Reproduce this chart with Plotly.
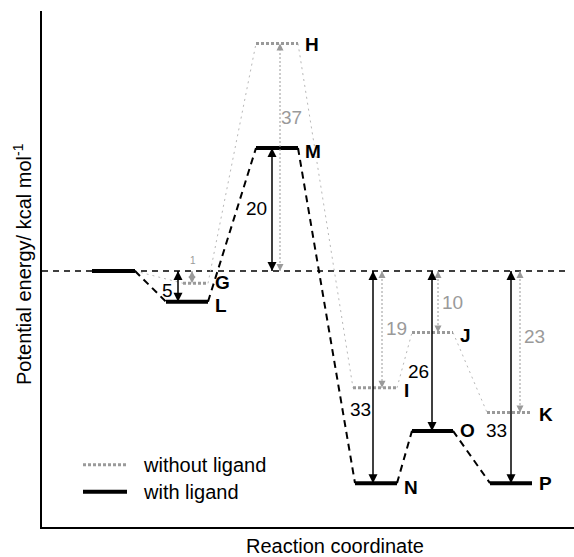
import plotly.graph_objects as go

# ---- data (energies in kcal/mol relative to reactants) ----
stage_start_with = [50, 124, 214, 313, 370, 448]
stage_start_without = [50, 141, 214, 311, 370, 445]
stage_end = [93, 166, 256, 355, 411, 490]
E_with = [0, -5, 20, -34.5, -26, -34.5]
E_without = [0, -2, 37, -19, -10, -23]
labels_with = ["", "L", "M", "N", "O", "P"]
labels_without = ["", "G", "H", "I", "J", "K"]

# energy-difference arrows: x-position, energy reached, label
arrow_x_with = [136, 230, 331, 390, 469]
arrow_E_with = [-5, 20, -34.5, -26, -34.5]
arrow_txt_with = ["5", "20", "33", "26", "33"]
arrow_lab_with = [(125, -3.1), (214, 10.1), (318, -22.6), (376, -16.3), (454, -26.0)]

arrow_x_without = [150, 238, 340, 396, 478]
arrow_E_without = [-2, 37, -19, -10, -23]
arrow_txt_without = ["1", "37", "19", "10", "23"]
arrow_lab_without = [(151, 1.7), (249, 25.0), (354, -9.3), (410, -5.2), (492, -10.7)]

BLACK = "#000000"
GREY = "#9a9a9a"
FONT = "Liberation Sans, Arial, sans-serif"

fig = go.Figure()


def level_xy(starts, ends, energies):
    xs, ys = [], []
    for s, e, E in zip(starts, ends, energies):
        xs += [s, e, None]
        ys += [E, E, None]
    return xs, ys


def conn_xy(starts, ends, energies):
    xs, ys = [], []
    for i in range(len(energies) - 1):
        xs += [ends[i], starts[i + 1], None]
        ys += [energies[i], energies[i + 1], None]
    return xs, ys


def add_arrow(x, E, color, width, dash, size):
    up, down = "arrow-up", "arrow-down"
    syms = [down, up] if E > 0 else [up, down]
    fig.add_trace(go.Scatter(x=[x, x], y=[0, E], mode="lines+markers",
                             line=dict(color=color, width=width, dash=dash),
                             marker=dict(symbol=syms, size=size, color=color,
                                         line=dict(width=0)),
                             showlegend=False, hoverinfo="skip"))


# reference dashed line at 0
fig.add_trace(go.Scatter(x=[0, 527], y=[0, 0], mode="lines",
                         line=dict(color=BLACK, width=1.5, dash="6px,5px"),
                         showlegend=False, hoverinfo="skip"))

# without ligand
cx, cy = conn_xy(stage_start_without, stage_end, E_without)
fig.add_trace(go.Scatter(x=cx, y=cy, mode="lines",
                         line=dict(color="#b8b8b8", width=1, dash="2px,4px"),
                         showlegend=False, hoverinfo="skip"))
lx, ly = level_xy(stage_start_without[1:], stage_end[1:], E_without[1:])
fig.add_trace(go.Scatter(x=lx, y=ly, mode="lines",
                         line=dict(color=GREY, width=3, dash="3px,2px"),
                         showlegend=False, hoverinfo="skip"))

# with ligand
cx, cy = conn_xy(stage_start_with, stage_end, E_with)
fig.add_trace(go.Scatter(x=cx, y=cy, mode="lines",
                         line=dict(color=BLACK, width=2, dash="7px,5px"),
                         showlegend=False, hoverinfo="skip"))
lx, ly = level_xy(stage_start_with, stage_end, E_with)
fig.add_trace(go.Scatter(x=lx, y=ly, mode="lines",
                         line=dict(color=BLACK, width=4),
                         showlegend=False, hoverinfo="skip"))

annotations = []

# grey dotted arrows (without ligand)
for x, E, t, (tx, ty) in zip(arrow_x_without, arrow_E_without, arrow_txt_without, arrow_lab_without):
    add_arrow(x, E, GREY, 1, "2px,2px", 7)
    annotations.append(dict(x=tx, y=ty, xref="x", yref="y", text=t, showarrow=False,
                            font=dict(family=FONT, size=19 if t != "1" else 10, color=GREY)))

# black double arrows (with ligand)
for x, E, t, (tx, ty) in zip(arrow_x_with, arrow_E_with, arrow_txt_with, arrow_lab_with):
    add_arrow(x, E, BLACK, 1.5, "solid", 9)
    annotations.append(dict(x=tx, y=ty, xref="x", yref="y", text=t, showarrow=False,
                            font=dict(family=FONT, size=19, color=BLACK)))

# level labels
yshift_with = [0, -4, -3, -4, 0, 0]
for e, E, lab, ys in zip(stage_end, E_with, labels_with, yshift_with):
    if lab:
        annotations.append(dict(x=e + 5, y=E, xref="x", yref="y", text="<b>%s</b>" % lab,
                                showarrow=False, xanchor="left", yshift=ys,
                                font=dict(family=FONT, size=19, color=BLACK)))
yshift_without = [0, 1, -1, -3, -3, -2]
for e, E, lab, ys in zip(stage_end, E_without, labels_without, yshift_without):
    if lab:
        annotations.append(dict(x=e + 5, y=E, xref="x", yref="y", text="<b>%s</b>" % lab,
                                showarrow=False, xanchor="left", yshift=ys,
                                font=dict(family=FONT, size=19, color=BLACK)))

# legend (manual)
legend_names = ["without ligand", "with ligand"]
legend_E = [-31.5, -35.9]
fig.add_trace(go.Scatter(x=[41, 85], y=[legend_E[0]] * 2, mode="lines",
                         line=dict(color=GREY, width=3, dash="3px,2px"),
                         showlegend=False, hoverinfo="skip"))
fig.add_trace(go.Scatter(x=[41, 85], y=[legend_E[1]] * 2, mode="lines",
                         line=dict(color=BLACK, width=4),
                         showlegend=False, hoverinfo="skip"))
for name, E in zip(legend_names, legend_E):
    annotations.append(dict(x=99, y=E, xref="x", yref="y", text=name, showarrow=False,
                            xanchor="left", font=dict(family=FONT, size=20, color=BLACK)))

# axis titles
annotations.append(dict(xref="paper", yref="paper", x=(335 - 42) / 532, y=-19 / 516,
                        text="Reaction coordinate", showarrow=False, yanchor="middle",
                        font=dict(family=FONT, size=20, color=BLACK)))
annotations.append(dict(xref="paper", yref="paper", x=-20 / 532, y=(527 - 264) / 516,
                        text="Potential energy/ kcal mol<sup>-1</sup>", showarrow=False,
                        textangle=-90, xanchor="center", yanchor="middle",
                        font=dict(family=FONT, size=20, color=BLACK)))

fig.update_layout(
    width=574, height=557,
    margin=dict(l=42, r=0, t=11, b=30),
    paper_bgcolor="white", plot_bgcolor="white",
    showlegend=False,
    annotations=annotations,
    xaxis=dict(range=[0, 532], showgrid=False, zeroline=False, showticklabels=False,
               ticks="", showline=True, linecolor=BLACK, linewidth=1.5, fixedrange=True),
    yaxis=dict(range=[-41.63, 42.28], showgrid=False, zeroline=False, showticklabels=False,
               ticks="", showline=True, linecolor=BLACK, linewidth=2, fixedrange=True),
)

fig.write_html("out.html", config={"displayModeBar": False},
               post_script="document.body.style.margin='0';document.body.style.overflow='hidden';")
